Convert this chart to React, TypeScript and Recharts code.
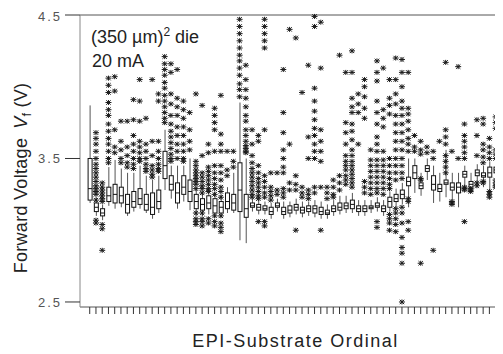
import { Bar, ComposedChart, ReferenceLine, Scatter, XAxis, YAxis } from 'recharts';

// one box per EPI-substrate ordinal
const ordinals = Array.from({ length: 67 }, (_, i) => i);

const whiskerLow = [
  3.19, 3.1, 3.07, 3.17, 3.15, 3.16, 3.1, 3.13, 3.15, 3.12,
  3.08, 3.12, 3.28, 3.22, 3.15, 3.2, 3.14, 3.1, 3.1, 3.11,
  3.09, 3.09, 3.12, 3.12, 2.93, 2.91, 3.13, 3.11, 3.11, 3.08,
  3.13, 3.08, 3.09, 3.11, 3.09, 3.1, 3.09, 3.08, 3.08, 3.1,
  3.11, 3.12, 3.12, 3.1, 3.1, 3.12, 3.13, 3.1, 3.13, 3.16,
  3.18, 3.16, 3.26, 3.24, 3.35, 3.19, 3.2, 3.23, 3.21, 3.16,
  3.28, 3.26, 3.3, 3.3, 3.28, 3.32, 3.33
];
const quartile1 = [
  3.21, 3.13, 3.1, 3.2, 3.19, 3.19, 3.12, 3.16, 3.18, 3.14,
  3.11, 3.15, 3.36, 3.28, 3.19, 3.25, 3.2, 3.15, 3.14, 3.15,
  3.12, 3.12, 3.15, 3.14, 3.13, 3.09, 3.16, 3.14, 3.14, 3.11,
  3.16, 3.11, 3.12, 3.14, 3.12, 3.13, 3.12, 3.11, 3.11, 3.13,
  3.14, 3.15, 3.15, 3.13, 3.13, 3.15, 3.16, 3.13, 3.16, 3.2,
  3.22, 3.31, 3.36, 3.29, 3.41, 3.28, 3.27, 3.32, 3.28, 3.26,
  3.37, 3.3, 3.38, 3.37, 3.37, 3.4, 3.38
];
const medians = [
  3.29, 3.16, 3.12, 3.24, 3.25, 3.24, 3.18, 3.2, 3.22, 3.18,
  3.16, 3.2, 3.45, 3.32, 3.26, 3.3, 3.27, 3.2, 3.18, 3.19,
  3.17, 3.16, 3.2, 3.19, 3.28, 3.15, 3.17, 3.16, 3.15, 3.13,
  3.17, 3.13, 3.14, 3.16, 3.14, 3.15, 3.15, 3.13, 3.12, 3.15,
  3.16, 3.17, 3.18, 3.15, 3.15, 3.16, 3.17, 3.15, 3.2, 3.22,
  3.25, 3.34, 3.4, 3.31, 3.43, 3.32, 3.29, 3.33, 3.3, 3.3,
  3.39, 3.32, 3.4, 3.38, 3.4, 3.42, 3.4
];
const quartile3 = [
  3.5, 3.19, 3.15, 3.3, 3.32, 3.3, 3.25, 3.27, 3.29, 3.25,
  3.26, 3.28, 3.55, 3.38, 3.33, 3.38, 3.35, 3.25, 3.22, 3.24,
  3.22, 3.2, 3.26, 3.25, 3.47, 3.25, 3.19, 3.18, 3.17, 3.16,
  3.19, 3.16, 3.17, 3.18, 3.16, 3.17, 3.17, 3.16, 3.14, 3.17,
  3.19, 3.19, 3.21, 3.17, 3.17, 3.17, 3.19, 3.17, 3.23, 3.25,
  3.28, 3.37, 3.45, 3.33, 3.45, 3.38, 3.32, 3.35, 3.33, 3.33,
  3.41, 3.34, 3.42, 3.4, 3.44, 3.44, 3.43
];
const whiskerHigh = [
  3.87, 3.23, 3.18, 3.44, 3.49, 3.43, 3.4, 3.4, 3.45, 3.38,
  3.35, 3.38, 3.7, 3.45, 3.45, 3.45, 3.5, 3.3, 3.27, 3.29,
  3.27, 3.25, 3.3, 3.4, 3.89, 3.5, 3.22, 3.21, 3.2, 3.19,
  3.22, 3.2, 3.2, 3.22, 3.2, 3.2, 3.21, 3.2, 3.18, 3.21,
  3.24, 3.24, 3.26, 3.21, 3.21, 3.21, 3.23, 3.21, 3.27, 3.29,
  3.33, 3.5, 3.5, 3.4, 3.5, 3.45, 3.4, 3.56, 3.4, 3.4,
  3.45, 3.4, 3.46, 3.45, 3.48, 3.48, 3.47
];

// outlying dice (asterisks), listed per ordinal
const outliers = [
  [],
  [3.68, 3.64, 3.6, 3.55, 3.5, 3.46, 3.43, 3.4, 3.37, 3.34, 3.31, 3.29, 3.27, 3.25, 3.21, 3.07, 3.05],
  [3.33, 3.3, 3.28, 3.26, 3.24, 3.22, 3.2, 3.04, 3.01, 2.86],
  [4.06, 4.01, 3.96, 3.89, 3.84, 3.8, 3.74, 3.69, 3.64, 3.6, 3.55, 3.5, 3.47],
  [4.07, 3.97, 3.7, 3.58, 3.54],
  [3.76, 3.62, 3.56, 3.5, 3.47],
  [3.76, 3.58, 3.52, 3.47, 3.44],
  [3.91, 3.77, 3.66, 3.6, 3.55, 3.5, 3.46, 3.43],
  [4.05, 3.9, 3.76, 3.62, 3.58, 3.54, 3.5, 3.48],
  [3.78, 3.6, 3.55, 3.5, 3.46, 3.43, 3.41],
  [4.05, 3.62, 3.52, 3.45, 3.42, 3.39, 3.37],
  [3.95, 3.9, 3.62, 3.55, 3.5, 3.46, 3.43, 3.41],
  [4.21, 4.16, 4.12, 4.08, 4.03, 3.99, 3.94, 3.9, 3.86, 3.82, 3.78, 3.75],
  [4.16, 4.1, 3.95, 3.88, 3.8, 3.74, 3.69, 3.65, 3.61, 3.57, 3.53, 3.5, 3.48],
  [4.12, 3.92, 3.86, 3.8, 3.72, 3.66, 3.6, 3.55, 3.5],
  [3.9, 3.84, 3.78, 3.72, 3.66, 3.6, 3.55, 3.5, 3.48],
  [3.82, 3.7, 3.62, 3.56],
  [3.95, 3.48, 3.45, 3.42, 3.4, 3.38, 3.36, 3.34, 3.32, 3.29, 3.12, 3.08, 3.06, 3.04],
  [3.87, 3.52, 3.4, 3.37, 3.34, 3.31, 3.29, 3.26, 3.12, 3.08, 3.06, 3.03],
  [3.6, 3.54, 3.44, 3.41, 3.38, 3.35, 3.32, 3.29, 3.27, 3.08, 3.05],
  [3.85, 3.8, 3.75, 3.7, 3.55, 3.45, 3.4, 3.36, 3.32, 3.29, 3.25, 3.1, 3.06, 3.03],
  [3.94, 3.67, 3.6, 3.55, 3.45, 3.4, 3.35, 3.3, 3.27, 3.23, 3.1, 3.05, 3.02, 2.99],
  [3.55, 3.42, 3.38],
  [3.55, 3.48, 3.44],
  [4.47, 4.42, 4.37, 4.32, 4.27, 4.22, 4.18, 4.13, 4.08, 4.02, 3.98, 3.93],
  [4.15, 4.05, 3.98, 3.92, 3.86, 3.8, 3.76, 3.7, 3.66, 3.62, 3.59, 3.57, 3.55, 3.54],
  [3.7, 3.6, 3.52, 3.47, 3.43, 3.4, 3.37, 3.34, 3.31, 3.28, 3.25, 3.23],
  [3.66, 3.62, 3.45, 3.4, 3.36, 3.33, 3.3, 3.27, 3.24, 3.22, 3.06],
  [4.47, 4.42, 4.37, 4.32, 4.27, 3.7, 3.38, 3.34, 3.3, 3.26, 3.23, 3.06, 3.03],
  [3.4, 3.3, 3.27, 3.24, 3.21],
  [3.4, 3.28, 3.25],
  [4.12, 3.82, 3.68, 3.56, 3.5, 3.44, 3.4, 3.29, 3.26, 3.23],
  [4.4, 3.6, 3.33, 3.28],
  [4.34, 3.38, 3.32, 3.28, 3.0],
  [3.96, 3.3, 3.26, 3.23],
  [4.15, 3.65, 3.5, 3.28, 3.25, 3.22],
  [4.49, 4.42, 3.99, 3.9, 3.83, 3.77, 3.71, 3.66, 3.6, 3.55, 3.5, 3.3, 3.26],
  [4.45, 4.13, 3.7, 3.62, 3.55, 3.48, 3.3, 3.0],
  [3.3, 3.26, 3.22],
  [3.35, 3.3, 3.25, 3.23],
  [4.22, 3.38, 3.33, 3.28],
  [4.1, 3.75, 3.68, 3.6, 3.52, 3.48, 3.45, 3.42, 3.38, 3.35, 3.32],
  [4.25, 4.1, 3.92, 3.86, 3.82, 3.74, 3.69, 3.63, 3.56, 3.52, 3.48, 3.45, 3.42, 3.39, 3.36, 3.33, 3.3],
  [3.95, 3.88, 3.82, 3.6],
  [4.05, 4.0, 3.93, 3.85, 3.78, 3.34, 3.3, 3.26],
  [3.56, 3.49, 3.45, 3.41, 3.37, 3.33, 3.29, 3.25],
  [4.18, 4.1, 4.04, 3.9, 3.82, 3.74, 3.65, 3.6, 3.55, 3.49, 3.45, 3.41, 3.37, 3.33, 3.29, 3.26, 3.06, 3.02],
  [4.13, 3.84, 3.78, 3.72, 3.55, 3.49, 3.45, 3.41, 3.37, 3.33, 3.29, 3.25],
  [4.05, 3.92, 3.87, 3.81, 3.5, 3.45, 3.4, 3.36, 3.32, 3.29, 3.11, 3.08, 3.05, 3.0],
  [4.2, 4.05, 3.95, 3.88, 3.8, 3.74, 3.68, 3.62, 3.56, 3.5, 3.45, 3.4, 3.35, 3.15, 3.12, 3.08, 3.04, 2.99],
  [4.19, 4.1, 4.0, 3.9, 3.85, 3.8, 3.74, 3.68, 3.62, 3.56, 3.5, 3.45, 3.4, 3.36, 3.16, 3.12, 3.05, 2.95, 2.88, 2.84, 2.77, 2.5],
  [4.1, 3.85, 3.81, 3.76, 3.7, 3.64, 3.6, 3.55, 3.22, 3.2, 3.06, 3.0],
  [3.66, 3.58, 3.55],
  [3.62, 3.56, 3.53, 3.36, 3.35, 2.77],
  [3.58, 3.54],
  [3.55, 3.5, 2.86],
  [3.62],
  [4.17, 3.7, 3.65, 3.6, 3.52, 3.48, 3.44, 3.4],
  [3.55, 3.2, 3.19, 3.18],
  [4.14, 3.5],
  [3.74, 3.66, 3.62, 3.58, 3.54, 3.5, 3.3, 3.29, 3.28, 3.06],
  [3.29, 3.28, 3.27],
  [3.77, 3.66, 3.52, 3.33, 3.31],
  [3.78, 3.74, 3.6, 3.56, 3.51, 3.47, 3.34, 3.33],
  [3.64, 3.58, 3.54, 3.5, 3.27, 3.25, 3.23],
  [3.79, 3.75, 3.71, 3.56, 3.53, 3.5, 3.35, 3.33, 3.31, 3.3],
  [3.55, 3.38]
];

const yTicks = [2.5, 3.5, 4.5];

const rows = ordinals.map((i) => ({
  ord: i,
  range: [whiskerLow[i], whiskerHigh[i]],
  lo: whiskerLow[i],
  q1: quartile1[i],
  med: medians[i],
  q3: quartile3[i],
  hi: whiskerHigh[i]
}));

const points = outliers.flatMap((vals, i) => vals.map((v) => ({ ord: i, v })));

const font = '"Liberation Sans", Arial, sans-serif';

function BoxShape(props: any) {
  const { x, y, width, height, payload } = props;
  if (!payload || height == null) return null;
  const span = payload.hi - payload.lo;
  const toY = (v: number) => y + (height * (payload.hi - v)) / span;
  const cx = x + width / 2;
  const top = toY(payload.q3);
  const bottom = toY(payload.q1);
  const mid = toY(payload.med);
  return (
    <g>
      <line x1={cx} y1={y} x2={cx} y2={y + height} stroke="#555" strokeWidth={1} />
      <rect x={x + 0.5} y={top} width={width - 1} height={Math.max(bottom - top, 1)} fill="#fff" stroke="#111" strokeWidth={1} />
      <line x1={x + 0.5} y1={mid} x2={x + width - 0.5} y2={mid} stroke="#111" strokeWidth={1} />
    </g>
  );
}

function Asterisk(props: any) {
  const { cx, cy } = props;
  if (cx == null || cy == null) return null;
  return (
    <g stroke="#1a1a1a" strokeWidth={1}>
      <line x1={cx - 3} y1={cy} x2={cx + 3} y2={cy} />
      <line x1={cx} y1={cy - 2.5} x2={cx} y2={cy + 2.5} />
      <line x1={cx - 2.2} y1={cy - 2.2} x2={cx + 2.2} y2={cy + 2.2} />
      <line x1={cx - 2.2} y1={cy + 2.2} x2={cx + 2.2} y2={cy - 2.2} />
    </g>
  );
}

function XTitle(props: any) {
  const vb = props.viewBox || { x: 0, y: 0, width: 0 };
  return (
    <text x={vb.x + vb.width / 2 + 3} y={vb.y + 40} textAnchor="middle" fontFamily={font} fontSize={18} letterSpacing={1.5} fill="#222">
      EPI-Substrate Ordinal
    </text>
  );
}

function YTitle(props: any) {
  const vb = props.viewBox || { x: 0, y: 0, height: 0 };
  const x = vb.x + 19;
  const y = vb.y + vb.height / 2 + 17;
  return (
    <text x={x} y={y} transform={`rotate(-90, ${x}, ${y})`} textAnchor="middle" fontFamily={font} fontSize={18} letterSpacing={0.3} fill="#222">
      Forward Voltage
      <tspan dx={9} fontStyle="italic">V</tspan>
      <tspan dy={4} fontSize={13}>f</tspan>
      <tspan dy={-4} dx={5}>(V)</tspan>
    </text>
  );
}

export default function App() {
  return (
    <div style={{ position: 'relative', width: 495, height: 346, overflow: 'hidden', fontFamily: font }}>
      <ComposedChart width={498} height={346} data={rows} margin={{ top: 7, right: 1, bottom: 7, left: 0 }}>
        <XAxis
          dataKey="ord"
          type="category"
          allowDuplicatedCategory={false}
          interval={0}
          tickSize={7}
          tickFormatter={() => ''}
          padding={{ left: 6.6, right: 0 }}
          height={40}
          axisLine={{ stroke: '#555' }}
          tickLine={{ stroke: '#333' }}
          label={<XTitle />}
        />
        <YAxis
          type="number"
          domain={[2.465, 4.5]}
          ticks={yTicks}
          width={72}
          tickSize={15}
          tickMargin={3}
          axisLine={{ stroke: '#888' }}
          tickLine={{ stroke: '#333' }}
          tick={{ fill: '#555', fontSize: 13, fontFamily: font, letterSpacing: 2 }}
          label={<YTitle />}
        />
        <ReferenceLine y={4.5} stroke="#555" ifOverflow="visible" />
        <Bar dataKey="range" barSize={5} shape={BoxShape} isAnimationActive={false} />
        <Scatter data={points} dataKey="v" shape={Asterisk} isAnimationActive={false} />
      </ComposedChart>
      <div style={{ position: 'absolute', left: 83, top: 20, fontSize: 18, lineHeight: '18px', color: '#222', whiteSpace: 'nowrap' }}>
        (350 µm)<span style={{ fontSize: 12, position: 'relative', top: -7 }}>2</span> die
      </div>
      <div style={{ position: 'absolute', left: 84, top: 44, fontSize: 18, lineHeight: '18px', color: '#222', whiteSpace: 'nowrap' }}>
        20 mA
      </div>
    </div>
  );
}
